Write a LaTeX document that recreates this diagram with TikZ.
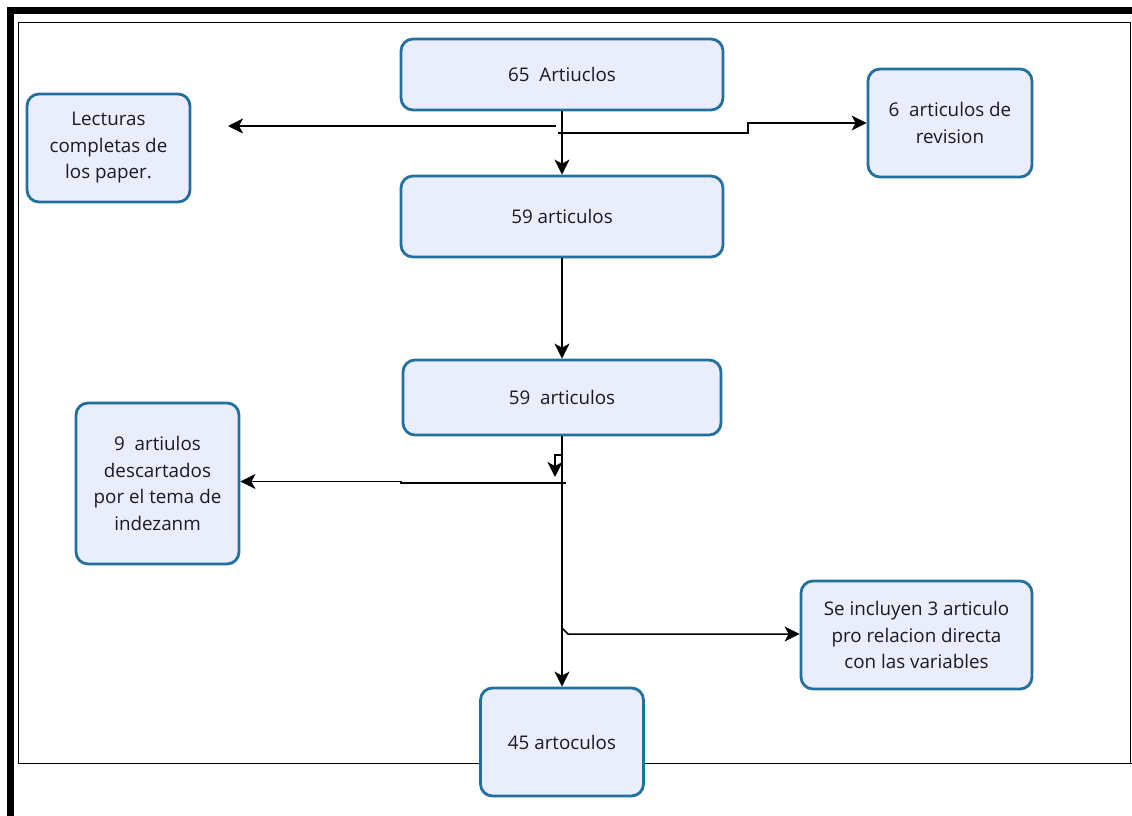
\documentclass[tikz,border=0pt]{standalone}
\usepackage{fontspec}
\setmainfont{Open Sans}
\usetikzlibrary{arrows.meta}
\definecolor{boxline}{RGB}{35,112,160}
\definecolor{boxfill}{RGB}{233,237,252}
\definecolor{txt}{RGB}{25,25,40}
\begin{document}
\begin{tikzpicture}[x=1pt,y=-1pt,
  box/.style={draw=boxline, fill=boxfill, line width=2.8pt, rounded corners=12pt,
    align=center, text=txt, font=\fontsize{18.8}{26.5}\selectfont, inner sep=0pt},
  conn/.style={line width=1.5pt, -{Stealth[length=15pt,width=15pt,inset=4pt]}},
  frameline/.style={line width=1pt}]
\useasboundingbox (0,0) rectangle (1132,816);
% frame
\fill (7,7) rectangle (1132,14);
\fill (7,7) rectangle (14,816);
\draw[frameline] (18,23) rectangle (1130,763);
\draw[frameline] (18,763) -- (1132,763);
% nodes
\node[box, minimum width=322pt, minimum height=71pt] (n1) at (562,74.5) {65\ \ Artiuclos};
\node[box, minimum width=163pt, minimum height=108pt] (n2) at (108.5,148) {Lecturas\\completas de\\los paper.};
\node[box, minimum width=164pt, minimum height=108pt] (n3) at (950,123) {6\ \ articulos de\\revision};
\node[box, minimum width=322pt, minimum height=81pt] (n4) at (562,216.5) {59 articulos};
\node[box, minimum width=318pt, minimum height=75pt] (n5) at (562,397.5) {59\ \ articulos};
\node[box, minimum width=163pt, minimum height=161pt] (n6) at (157.5,483.5) {9\ \ artiulos\\descartados\\por el tema de\\indezanm};
\node[box, minimum width=231pt, minimum height=108pt] (n7) at (916.5,635) {Se incluyen 3 articulo\\pro relacion directa\\con las variables};
\node[box, minimum width=163pt, minimum height=108pt] (n8) at (562,742) {45 artoculos};
% connector points
\coordinate (j1) at (556,126);
\coordinate (a1) at (228,126);
\coordinate (j2) at (558,133);
\coordinate (b1) at (748,133);
\coordinate (b2) at (748,123);
\coordinate (k1) at (562,455);
\coordinate (k2) at (555,455);
\coordinate (k3) at (555,477);
\coordinate (j3) at (566,483);
\coordinate (c1) at (401,483);
\coordinate (c2) at (401,481.5);
\coordinate (j4) at (562,628);
\coordinate (d1) at (568,634);
% connectors
\draw[conn] (n1.south) -- (n4.north);
\draw[conn] (j1) -- (a1);
\draw[conn] (j2) -- (b1) -- (b2) -- (n3.west);
\draw[conn] (n4.south) -- (n5.north);
\draw[conn] (n5.south) -- (n8.north);
\draw[conn] (k1) -- (k2) -- (k3);
\draw[conn] (j3) -- (c1) -- (c2) -- (n6.east |- c2);
\draw[conn] (j4) -- (d1) -- (n7.west |- d1);
\end{tikzpicture}
\end{document}
